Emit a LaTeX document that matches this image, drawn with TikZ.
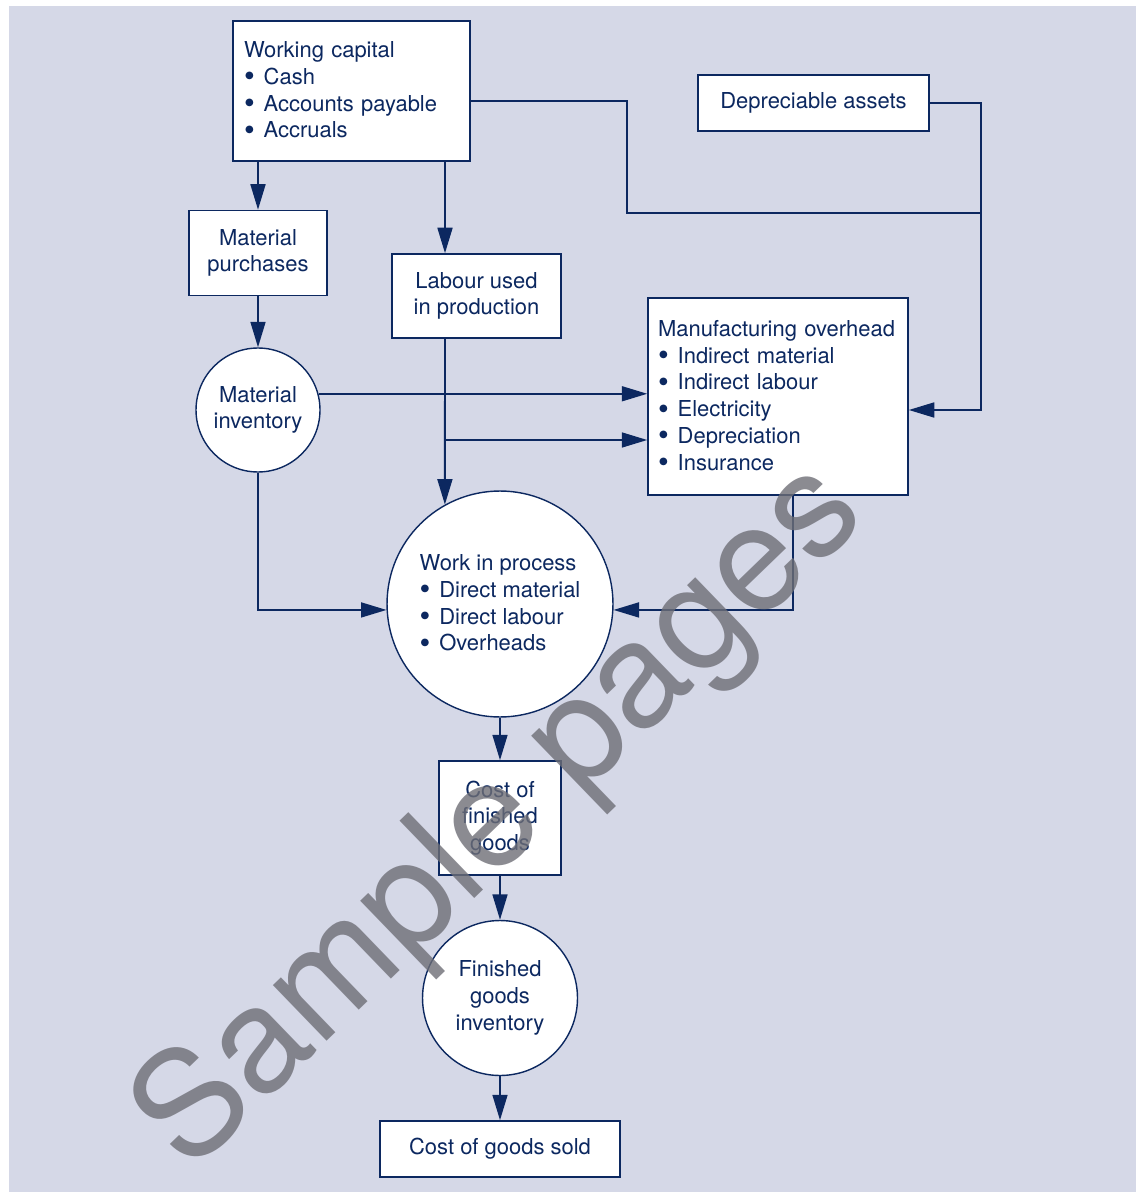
\documentclass[tikz,border=0pt]{standalone}
\usepackage{fontspec}
\usepackage{graphicx}
\setmainfont{TeX Gyre Heros}
\usetikzlibrary{arrows.meta}
\definecolor{navy}{RGB}{12,40,96}
\definecolor{panel}{RGB}{213,216,231}
\definecolor{stamp}{RGB}{110,110,118}
\newcommand{\itm}[1]{\makebox[11.2pt][l]{\raisebox{-1.4pt}{\scalebox{1.4}{\textbullet}}}#1}

\begin{document}
\begin{tikzpicture}[x=.02cm, y=-.02cm, >={Triangle[length=14.5pt,width=8.5pt]},
    every node/.style={font=\fontsize{12.5}{15.2}\selectfont, text=navy},
    box/.style={draw=navy, line width=.9pt, fill=white, align=center, inner sep=0pt},
    pool/.style={draw=navy, line width=.8pt, fill=white, circle, align=center, inner sep=0pt},
    flow/.style={draw=navy, line width=1.1pt}]
    \useasboundingbox (0, 0) rectangle (1136, 1192);
    \fill [panel] (9, 6) rectangle (1136, 1192);

    \node [box, minimum width=4.74cm, minimum height=2.8cm, text width=4.3cm, align=left] (wc) at (351.5, 91)
        {Working capital\\ \itm{Cash}\\ \itm{Accounts payable}\\ \itm{Accruals}};
    \node [box, minimum width=4.62cm, minimum height=1.12cm] (da) at (813.5, 103) {Depreciable assets};
    \node [box, minimum width=2.76cm, minimum height=1.7cm] (mp) at (258, 253) {Material\\ purchases};
    \node [box, minimum width=3.38cm, minimum height=1.68cm] (lab) at (476.5, 296) {Labour used\\ in production};
    \node [box, minimum width=5.2cm, minimum height=3.94cm, text width=4.8cm, align=left] (mo) at (778, 396.5)
        {Manufacturing overhead\\ \itm{Indirect material}\\ \itm{Indirect labour}\\ \itm{Electricity}\\
         \itm{Depreciation}\\ \itm{Insurance}};
    \node [pool, minimum size=2.48cm] (mi) at (258, 410) {Material\\ inventory};
    \node [pool, minimum size=4.52cm, align=left] (wip) at (500, 604)
        {Work in process\\ \itm{Direct material}\\ \itm{Direct labour}\\ \itm{Overheads}};
    \node [box, minimum width=2.44cm, minimum height=2.28cm] (cfg) at (500, 818) {Cost of\\ finished\\ goods};
    \node [pool, minimum size=3.1cm] (fgi) at (500, 998) {Finished\\ goods\\ inventory};
    \node [box, minimum width=4.8cm, minimum height=1.12cm] (cgs) at (500, 1149) {Cost of goods sold};

    \coordinate (lx) at (445, 0);
    \coordinate (mx) at (793, 0);
    \coordinate (br) at (445, 440);
    \coordinate (kn) at (627, 213);
    \coordinate (jn) at (981, 213);

    \draw [flow, ->] (mp.north |- wc.south) -- (mp.north);
    \draw [flow, ->] (lx |- wc.south) -- (lx |- lab.north);
    \draw [flow] ([yshift=-.2cm]wc.east) -| (kn) -- (jn);
    \draw [flow, ->] (da.east) -| (jn) |- ([yshift=-.27cm]mo.east);
    \draw [flow, ->] (mp) -- (mi);
    \draw [flow, ->] (mi.15) -- (mi.15 -| mo.west);
    \draw [flow, ->] (lx |- lab.south) -- (wip.119.1);
    \draw [flow, ->] (br) -- (br -| mo.west);
    \draw [flow, ->] (mi.south) |- (wip.183);
    \draw [flow, ->] (mx |- mo.south) |- (wip.-3);
    \draw [flow, ->] (wip) -- (cfg);
    \draw [flow, ->] (cfg) -- (fgi);
    \draw [flow, ->] (fgi) -- (cgs);

    \node [rotate=44, text=stamp, opacity=.8, font=\fontsize{84}{84}\selectfont] (sample) at (502, 818) {Sample pages};
\end{tikzpicture}
\end{document}
